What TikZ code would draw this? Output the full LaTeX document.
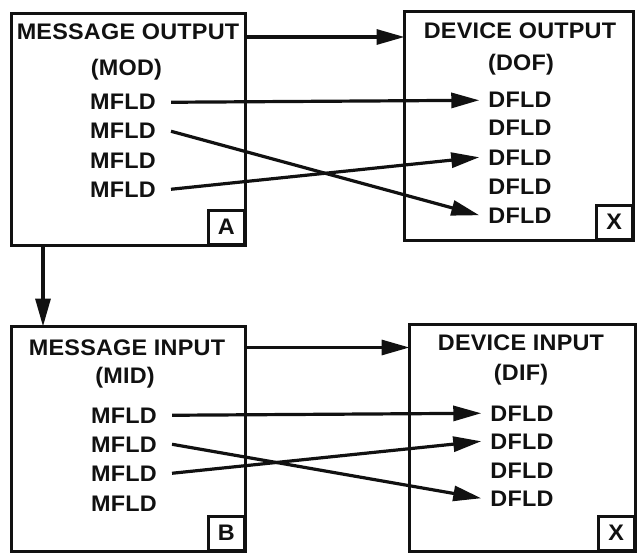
\documentclass[tikz,border=0pt]{standalone}
\usepackage{fontspec}
\setmainfont{Liberation Sans}[FakeStretch=1.04,LetterSpace=1]
\usepackage{tikz}
\usetikzlibrary{arrows.meta,positioning}
\definecolor{ink}{HTML}{111111}
\definecolor{paper}{HTML}{FFFFFF}

\begin{document}
\begin{tikzpicture}[x=1pt,y=-1pt,
  font=\fontsize{22.5}{26}\selectfont\bfseries,
  tablebox/.style={draw=ink,line width=3.8pt,anchor=north west,inner sep=0pt,outer sep=0pt},
  tagbox/.style={draw=ink,line width=2.6pt,anchor=south east,minimum width=36pt,
    minimum height=34pt,inner sep=0pt,text=ink},
  titletext/.style={anchor=base,text=ink,inner sep=0pt},
  msgfield/.style={anchor=base,text=ink,inner xsep=15pt,inner ysep=0pt},
  devfield/.style={anchor=base,text=ink,inner xsep=9pt,inner ysep=0pt},
  linkarrow/.style={draw=ink,line width=3.2pt,-{Triangle[length=28pt,width=15pt]}}]

  \fill[paper] (0,0) rectangle (639,556);
  \useasboundingbox (0,0) rectangle (639,556);

  % the four tables
  \node[tablebox,minimum width=234pt,minimum height=232pt] (mod) at (11.5,13.5) {};
  \node[tablebox,minimum width=229pt,minimum height=229pt] (dof) at (404.5,11.5) {};
  \node[tablebox,minimum width=234pt,minimum height=225pt] (mid) at (11.5,326.5) {};
  \node[tablebox,minimum width=226pt,minimum height=227pt] (dif) at (409.5,324.5) {};

  \node[tagbox] (taga) at (mod.south east) {A};
  \node[tagbox] (tagx) at (dof.south east) {X};
  \node[tagbox] (tagb) at (mid.south east) {B};
  \node[tagbox] (tagy) at (dif.south east) {X};

  % titles
  \node[titletext] (modtitle) at (128,40) {MESSAGE OUTPUT};
  \node[titletext] (modname) at (126.5,76) {(MOD)};
  \node[titletext] (doftitle) at (520,39) {DEVICE OUTPUT};
  \node[titletext] (dofname) at (521,71) {(DOF)};
  \node[titletext] (midtitle) at (127,355) {MESSAGE INPUT};
  \node[titletext] (midname) at (125,383) {(MID)};
  \node[titletext] (diftitle) at (521,350) {DEVICE INPUT};
  \node[titletext] (difname) at (521,380) {(DIF)};

  % field rows
  \foreach \i/\yy in {1/110,2/139,3/168,4/197}
    \node[msgfield] (modrow\i) at (123,\yy) {MFLD};
  \foreach \i/\yy in {1/108,2/136,3/165,4/194,5/223}
    \node[devfield] (dofrow\i) at (520,\yy) {DFLD};
  \foreach \i/\yy in {1/423,2/452,3/481,4/511}
    \node[msgfield] (midrow\i) at (124,\yy) {MFLD};
  \foreach \i/\yy in {1/421,2/449,3/478,4/506}
    \node[devfield] (difrow\i) at (522,\yy) {DFLD};

  % links between tables
  \coordinate (outrow) at (0,37);
  \coordinate (inrow) at (0,347.5);
  \draw[linkarrow] (mod.east |- outrow) -- (dof.west |- outrow);
  \draw[linkarrow] (mid.east |- inrow) -- (dif.west |- inrow);
  \draw[linkarrow] ([xshift=31.5pt]mod.south west) -- ([xshift=31.5pt]mid.north west);

  % links between fields
  \draw[linkarrow] (modrow1.east) -- (dofrow1.west);
  \draw[linkarrow] (modrow2.east) -- (dofrow5.west);
  \draw[linkarrow] (modrow4.east) -- (dofrow3.west);
  \draw[linkarrow] (midrow1.east) -- (difrow1.west);
  \draw[linkarrow] (midrow2.east) -- (difrow4.west);
  \draw[linkarrow] (midrow3.east) -- (difrow2.west);
\end{tikzpicture}
\end{document}
